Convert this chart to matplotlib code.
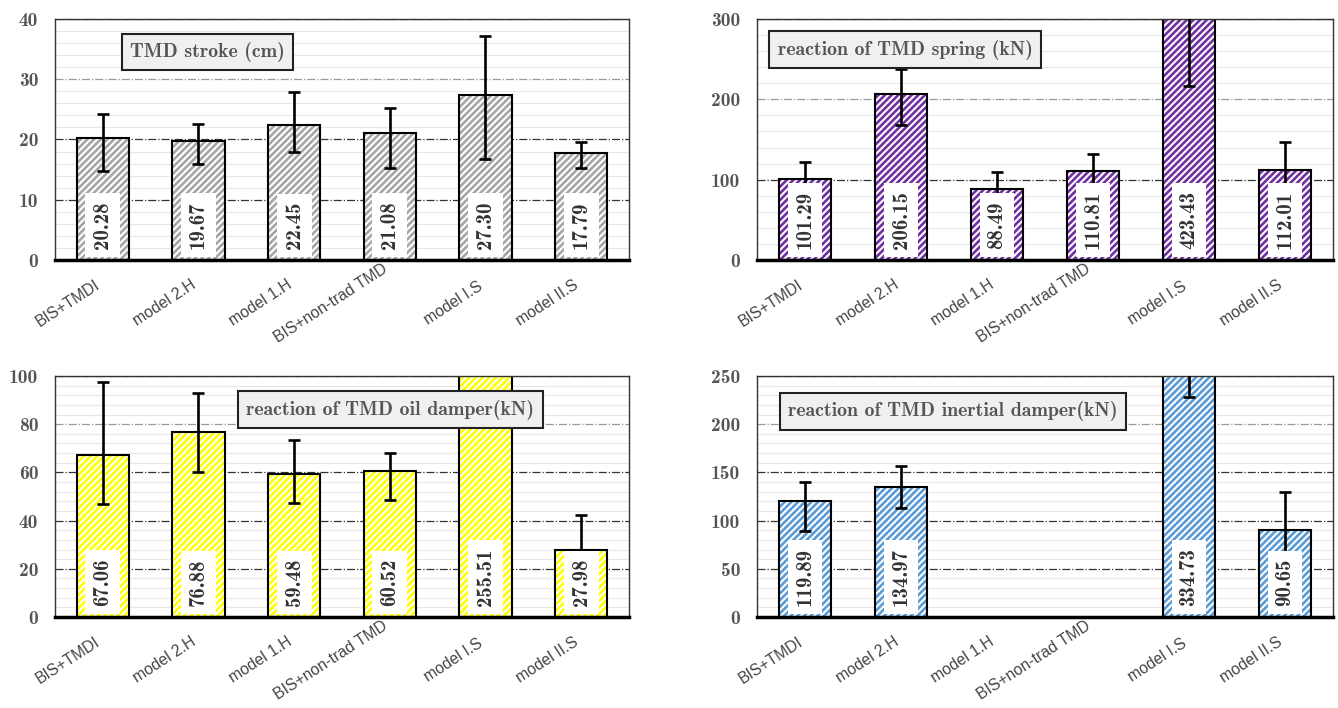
import matplotlib
matplotlib.use("Agg")
import matplotlib.pyplot as plt
import numpy as np
from matplotlib.ticker import AutoMinorLocator

categories = ["BIS+TMDI", "model 2.H", "model 1.H", "BIS+non-trad TMD", "model I.S", "model II.S"]

# TMD stroke (cm)
stroke = [20.28, 19.67, 22.45, 21.08, 27.30, 17.79]
stroke_lo = [14.8, 16.0, 18.0, 15.3, 16.8, 15.2]
stroke_hi = [24.3, 22.6, 27.9, 25.2, 37.2, 19.5]

# spring reaction (kN)
spring = [101.29, 206.15, 88.49, 110.81, 423.43, 112.01]
spring_lo = [80.0, 167.6, 67.0, 89.0, 216.2, 77.0]
spring_hi = [122.4, 237.8, 109.9, 132.3, 630.0, 147.3]

# oil damper reaction (kN)
oil = [67.06, 76.88, 59.48, 60.52, 255.51, 27.98]
oil_lo = [46.7, 60.2, 47.2, 48.5, 190.0, 13.8]
oil_hi = [97.5, 93.1, 73.6, 68.0, 320.0, 42.2]

# inertial damper reaction (kN), no inerter in model 1.H / non-trad TMD
inertial = [119.89, 134.97, np.nan, np.nan, 334.73, 90.65]
inertial_lo = [89.2, 113.4, np.nan, np.nan, 228.0, 51.0]
inertial_hi = [139.7, 156.6, np.nan, np.nan, 441.0, 129.7]

plt.rcParams['font.family'] = ['cmb10', 'DejaVu Serif']
plt.rcParams['hatch.linewidth'] = 1.9
plt.rcParams['axes.unicode_minus'] = False

fig = plt.figure(figsize=(13.38, 7.08), dpi=100)


def panel(rect, vals, lo, hi, color, title, ymax, step, title_xy):
    ax = fig.add_axes(rect)
    vals = np.array(vals, dtype=float)
    lo = np.array(lo, dtype=float)
    hi = np.array(hi, dtype=float)
    x = np.arange(len(categories))

    # hatched fill, then the black outline on top
    ax.bar(x, vals, width=0.55, color='white', edgecolor=color, hatch='/////', linewidth=0, zorder=2)
    ax.bar(x, vals, width=0.55, color='none', edgecolor='black', linewidth=1.5, zorder=2.5)
    ax.errorbar(x, vals, yerr=[vals - lo, hi - vals], fmt='none', ecolor='black',
                elinewidth=1.9, capsize=4, capthick=1.9, zorder=3)

    for i, v in enumerate(vals):
        if np.isnan(v):
            continue
        ax.annotate(f'{v:.2f}', xy=(i, 0), xytext=(0, 8), textcoords='offset points',
                    rotation=90, ha='center', va='bottom', fontsize=15, color='#333333',
                    bbox=dict(boxstyle='square,pad=0.38', fc='white', ec='none'), zorder=4)

    ax.text(title_xy[0], title_xy[1], title, transform=ax.transAxes, ha='center', va='center',
            fontsize=14.3, color='#555555', zorder=6,
            bbox=dict(boxstyle='square,pad=0.42', fc='#f0f0f0', ec='#222222', lw=1.5))

    ax.set_xlim(-0.5, len(categories) - 0.5)
    ax.set_ylim(0, ymax)
    ax.set_yticks(np.arange(0, ymax + step / 2, step))
    ax.yaxis.set_minor_locator(AutoMinorLocator(5))
    ax.set_xticks(x)
    ax.set_xticklabels(categories, rotation=33, ha='right', va='center',
                       family='Liberation Sans', fontsize=11.3, color='#444444')
    ax.tick_params(axis='x', length=0, pad=31)
    ax.tick_params(axis='y', which='both', length=0, pad=12, labelsize=14, labelcolor='#555555')

    ax.grid(which='major', axis='y', linestyle='-.', color='#333333', linewidth=0.9)
    ax.grid(which='minor', axis='y', linestyle='-', color='#e8e8e8', linewidth=0.8)
    ax.set_axisbelow(True)
    ticks = ax.yaxis.get_major_ticks()
    ticks[-2].gridline.set_color('#9a9a9a')

    for s in ['left', 'top', 'right']:
        ax.spines[s].set_color('#333333')
        ax.spines[s].set_linewidth(1.0)
    ax.spines['bottom'].set_color('black')
    ax.spines['bottom'].set_linewidth(2.5)
    return ax


panel([0.0411, 0.6328, 0.429, 0.3404], stroke, stroke_lo, stroke_hi, '#a6a6a6',
      'TMD stroke (cm)', 40, 10, (0.266, 0.863))
panel([0.5658, 0.6328, 0.4305, 0.3404], spring, spring_lo, spring_hi, '#7030a0',
      'reaction of TMD spring (kN)', 300, 100, (0.257, 0.873))
panel([0.0411, 0.1285, 0.429, 0.3404], oil, oil_lo, oil_hi, '#ffff00',
      'reaction of TMD oil damper(kN)', 100, 20, (0.584, 0.861))
panel([0.5658, 0.1285, 0.4305, 0.3404], inertial, inertial_lo, inertial_hi, '#5b9bd5',
      'reaction of TMD inertial damper(kN)', 250, 50, (0.340, 0.853))

fig.savefig('out.png', dpi=100)
